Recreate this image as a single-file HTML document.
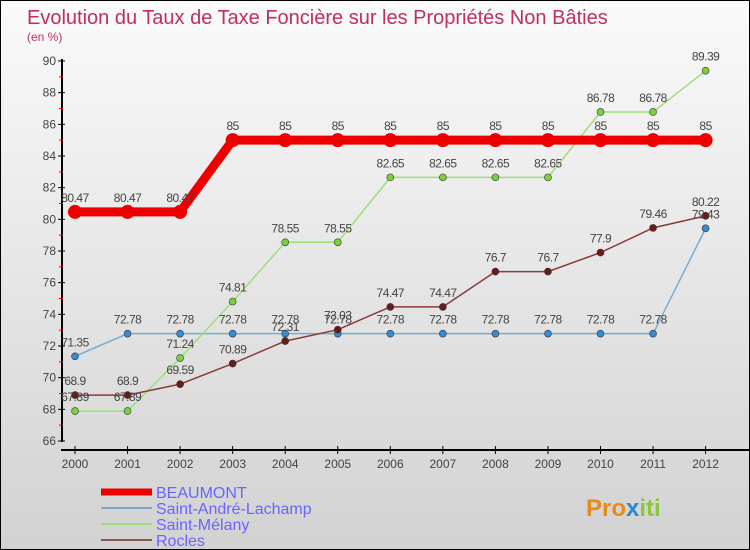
<!DOCTYPE html>
<html><head><meta charset="utf-8"><style>
body{margin:0}
#c{position:relative;width:748px;height:548px;border:1px solid #000;background:linear-gradient(#fafafa,#d2d2d2);font-family:"Liberation Sans",sans-serif;overflow:hidden}
</style></head><body>
<div id="c">
<svg id="s" width="748" height="548" style="position:absolute;left:0;top:0" font-family="Liberation Sans, sans-serif">
<text x="26" y="23" font-size="20" fill="#c0305c">Evolution du Taux de Taxe Foncière sur les Propriétés Non Bâties</text>
<text x="26" y="40" font-size="12" fill="#c0305c">(en %)</text>
<g id="g"></g>
<text x="585" y="515" font-size="24" font-weight="bold" fill="#e88a1a">Pro<tspan fill="#2a8ad0">x</tspan><tspan fill="#8ac83a">iti</tspan></text>
</svg>
</div>
<script>
const years=[2000,2001,2002,2003,2004,2005,2006,2007,2008,2009,2010,2011,2012];
const yTicks=[66,68,70,72,74,76,78,80,82,84,86,88,90];
const beaumont=[80.47,80.47,80.47,85,85,85,85,85,85,85,85,85,85];
const saintAndre=[71.35,72.78,72.78,72.78,72.78,72.78,72.78,72.78,72.78,72.78,72.78,72.78,79.43];
const saintMelany=[67.89,67.89,71.24,74.81,78.55,78.55,82.65,82.65,82.65,82.65,86.78,86.78,89.39];
const rocles=[68.9,68.9,69.59,70.89,72.31,73.03,74.47,74.47,76.7,76.7,77.9,79.46,80.22];
const seriesNames=["BEAUMONT","Saint-André-Lachamp","Saint-Mélany","Rocles"];
const NS="http://www.w3.org/2000/svg";
const g=document.getElementById('g');
const X=i=>74+i*52.55, Y=v=>440-(v-66)*(380/24);
function el(t,a,p){const e=document.createElementNS(NS,t);for(const k in a)e.setAttribute(k,a[k]);(p||g).appendChild(e);return e;}
let ax=el('line',{x1:61,y1:58,x2:61,y2:441,stroke:'#000','stroke-width':2});

let bx=el('line',{x1:60,y1:449,x2:748,y2:449,stroke:'#000','stroke-width':2});

yTicks.forEach((v,i)=>{
 el('line',{x1:57,y1:Y(v),x2:64,y2:Y(v),stroke:'#000'});
 if(i<yTicks.length-1)el('line',{x1:58,y1:Y(v+1),x2:62,y2:Y(v+1),stroke:'#f00'});
 const t=el('text',{x:55,y:Y(v)+4,'font-size':12,fill:'#444','text-anchor':'end'});t.textContent=v;
 
});
years.forEach((yr,i)=>{
 el('line',{x1:X(i),y1:445,x2:X(i),y2:453,stroke:'#000'});
 const t=el('text',{x:X(i),y:467,'font-size':12,fill:'#444','text-anchor':'middle'});t.textContent=yr;
 
});
function series(data,color,w,r,dot,name){
 const p=el('polyline',{points:data.map((v,i)=>X(i)+','+Y(v)).join(' '),fill:'none',stroke:color,'stroke-width':w});
 
 data.forEach((v,i)=>{
  const c=el('circle',{cx:X(i),cy:Y(v),r:r,fill:dot,stroke:'#333','stroke-width':r>5?0:0.6});
  
 });
}
function labels(data,dy){data.forEach((v,i)=>{const t=el('text',{x:X(i),y:Y(v)+dy,'font-size':12,fill:'#444','text-anchor':'middle','letter-spacing':'-0.5'});t.textContent=v;
 });}
series(saintAndre,'#7aaad0',1.5,3.5,'#3a8ad0','saint-andre');
series(saintMelany,'#9ede78',1.5,3.5,'#7cd040','saint-melany');
series(rocles,'#8a3a3a',1.5,3.5,'#6a1a1a','rocles');
series(beaumont,'#ee0000',9,7,'#ee0000','beaumont');
labels(beaumont,-10);labels(saintAndre,-10);labels(saintMelany,-10);labels(rocles,-10);
const lc=['#ee0000','#7aaad0','#9ede78','#8a5555'],lw=[7,2,2,2];
seriesNames.forEach((n,i)=>{
 const y=491+i*16;
 const l=el('line',{x1:100,y1:y,x2:151,y2:y,stroke:lc[i],'stroke-width':lw[i]});
 
 const t=el('text',{x:155,y:y+6,'font-size':16,fill:'#6666ff'});t.textContent=n;
 
});
</script>
</body></html>
